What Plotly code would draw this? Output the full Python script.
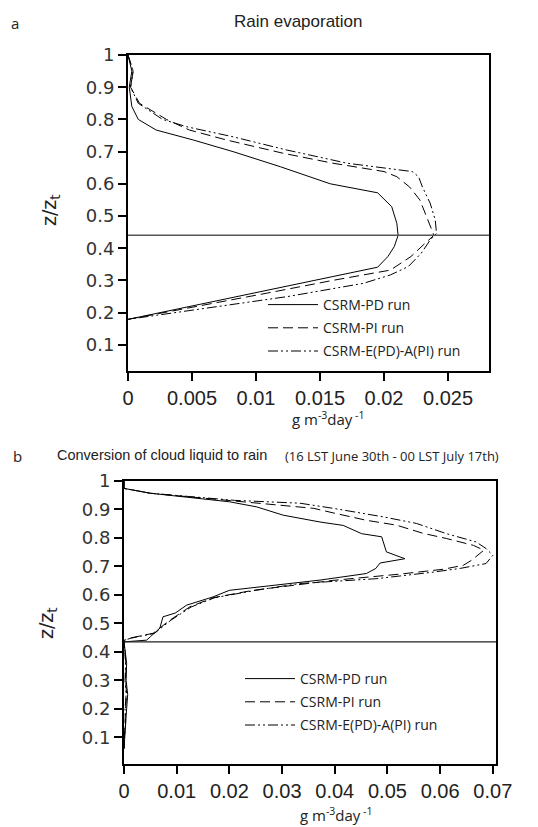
import plotly.graph_objects as go

# ---------------- data: panel a (Rain evaporation) ----------------
a_pd_z = [1.0, 0.95, 0.9, 0.84, 0.8, 0.767, 0.736, 0.7, 0.653, 0.6, 0.572, 0.529, 0.477, 0.44, 0.405, 0.374, 0.341, 0.30, 0.26, 0.218, 0.179]
a_pd_v = [0.0, 0.0003, 0.0001, 0.0003, 0.0008, 0.0022, 0.0051, 0.0082, 0.0119, 0.0158, 0.0195, 0.0206, 0.0210, 0.0211, 0.0208, 0.0203, 0.0195, 0.0146, 0.0097, 0.0047, 0.0]

a_pi_z = [1.0, 0.95, 0.9, 0.85, 0.8, 0.767, 0.736, 0.695, 0.664, 0.638, 0.622, 0.59, 0.55, 0.508, 0.467, 0.44, 0.415, 0.374, 0.332, 0.30, 0.26, 0.218, 0.179]
a_pi_v = [0.0, 0.0004, 0.0002, 0.0009, 0.0030, 0.0048, 0.0077, 0.0121, 0.0160, 0.0200, 0.0210, 0.0220, 0.0228, 0.0232, 0.0236, 0.0239, 0.0232, 0.0221, 0.0205, 0.0160, 0.0108, 0.0051, 0.0]

a_ea_z = [1.0, 0.95, 0.9, 0.85, 0.8, 0.777, 0.746, 0.705, 0.664, 0.648, 0.638, 0.622, 0.59, 0.54, 0.488, 0.446, 0.425, 0.384, 0.343, 0.317, 0.291, 0.25, 0.208, 0.179]
a_ea_v = [0.0, 0.0004, 0.0002, 0.0008, 0.0027, 0.0046, 0.0082, 0.0124, 0.0171, 0.0202, 0.0222, 0.0227, 0.0230, 0.0236, 0.0240, 0.0241, 0.0236, 0.0229, 0.0219, 0.0205, 0.0184, 0.0125, 0.0052, 0.0]

a_hline = 0.44
a_xticks = [0, 0.005, 0.01, 0.015, 0.02, 0.025]
a_xticktext = ["0", "0.005", "0.01", "0.015", "0.02", "0.025"]

# ---------------- data: panel b (Conversion of cloud liquid to rain) ----------------
b_pd_z = [1.0, 0.974, 0.957, 0.927, 0.909, 0.88, 0.856, 0.844, 0.815, 0.804, 0.751, 0.727, 0.712, 0.693, 0.675, 0.652, 0.616, 0.593, 0.564, 0.536, 0.523, 0.483, 0.453, 0.441, 0.435, 0.40, 0.36, 0.30, 0.25, 0.20, 0.15, 0.10, 0.06]
b_pd_v = [0.0, 0.0, 0.005, 0.020, 0.0252, 0.0302, 0.0372, 0.0416, 0.0451, 0.0489, 0.0498, 0.0533, 0.0486, 0.0478, 0.0460, 0.0372, 0.0200, 0.0169, 0.0119, 0.0097, 0.0074, 0.0068, 0.0050, 0.0043, 0.0, 0.0003, 0.0005, 0.0004, 0.0007, 0.0005, 0.0003, 0.0002, 0.0]

b_pi_z = [1.0, 0.974, 0.957, 0.932, 0.921, 0.915, 0.904, 0.888, 0.862, 0.845, 0.816, 0.798, 0.774, 0.757, 0.722, 0.704, 0.69, 0.673, 0.651, 0.616, 0.59, 0.558, 0.511, 0.465, 0.448, 0.44, 0.40, 0.35, 0.30, 0.25, 0.2, 0.15, 0.1, 0.06]
b_pi_v = [0.0, 0.0, 0.005, 0.020, 0.027, 0.0302, 0.036, 0.0397, 0.046, 0.0517, 0.0568, 0.0612, 0.0663, 0.0683, 0.066, 0.0644, 0.0606, 0.0524, 0.0397, 0.0245, 0.0169, 0.0125, 0.0087, 0.0055, 0.0011, 0.0, 0.0002, 0.0004, 0.0003, 0.0005, 0.0003, 0.0002, 0.0001, 0.0]

b_ea_z = [1.0, 0.974, 0.957, 0.932, 0.922, 0.904, 0.874, 0.851, 0.815, 0.786, 0.763, 0.739, 0.71, 0.693, 0.68, 0.657, 0.64, 0.616, 0.59, 0.558, 0.511, 0.465, 0.448, 0.44, 0.40, 0.35, 0.30, 0.25, 0.2, 0.15, 0.1, 0.06]
b_ea_v = [0.0, 0.0, 0.005, 0.021, 0.0334, 0.0397, 0.0492, 0.0555, 0.0612, 0.0668, 0.0687, 0.0700, 0.0687, 0.0638, 0.0587, 0.0480, 0.0334, 0.0250, 0.0172, 0.0128, 0.0089, 0.0058, 0.0013, 0.0, 0.0002, 0.0003, 0.0002, 0.0004, 0.0002, 0.0003, 0.0001, 0.0]

b_hline = 0.435
b_xticks = [0, 0.01, 0.02, 0.03, 0.04, 0.05, 0.06, 0.07]
b_xticktext = ["0", "0.01", "0.02", "0.03", "0.04", "0.05", "0.06", "0.07"]

yticks = [0.1, 0.2, 0.3, 0.4, 0.5, 0.6, 0.7, 0.8, 0.9, 1.0]
yticktext = ["0.1", "0.2", "0.3", "0.4", "0.5", "0.6", "0.7", "0.8", "0.9", "1"]

series_names = ["CSRM-PD run", "CSRM-PI run", "CSRM-E(PD)-A(PI) run"]

# ---------------- styling ----------------
W, H = 538, 827
TICKX = "Liberation Sans, Arial, sans-serif"
LEG_FONT = "Open Sans, Noto Sans, sans-serif"
dashes = ["solid", "10px,5px", "10px,3px,2px,3px,2px,3px"]

fig = go.Figure()

panel_a = [(a_pd_v, a_pd_z), (a_pi_v, a_pi_z), (a_ea_v, a_ea_z)]
panel_b = [(b_pd_v, b_pd_z), (b_pi_v, b_pi_z), (b_ea_v, b_ea_z)]

for i, (v, z) in enumerate(panel_a):
    fig.add_trace(go.Scatter(x=v, y=z, mode="lines", name=series_names[i],
                             line=dict(color="black", width=1, dash=dashes[i]),
                             xaxis="x", yaxis="y", legend="legend",
                             legendgroup="a%d" % i))
for i, (v, z) in enumerate(panel_b):
    fig.add_trace(go.Scatter(x=v, y=z, mode="lines", name=series_names[i],
                             line=dict(color="black", width=1, dash=dashes[i]),
                             xaxis="x2", yaxis="y2", legend="legend2",
                             legendgroup="b%d" % i))

# horizontal reference lines
fig.add_hline(y=a_hline, line=dict(color="#555555", width=1.5), xref="x", yref="y")
fig.add_hline(y=b_hline, line=dict(color="#222222", width=1.2), xref="x2", yref="y2")


def px_dom(lo, hi, total, flip=False):
    if flip:
        return [1 - hi / total, 1 - lo / total]
    return [lo / total, hi / total]


xaxis_common = dict(showline=True, linecolor="black", linewidth=2, mirror=True,
                    ticks="outside", ticklen=8, tickwidth=1.5, tickcolor="black",
                    showgrid=False, zeroline=False, automargin=False, tickangle=0,
                    tickfont=dict(family=TICKX, size=20, color="#222222"))
yaxis_common = dict(showline=True, linecolor="black", linewidth=2, mirror=True,
                    ticks="outside", ticklen=8, tickwidth=1.5, tickcolor="black",
                    showgrid=False, zeroline=False, automargin=False,
                    tickvals=yticks, ticktext=yticktext,
                    tickfont=dict(family="DejaVu Sans, sans-serif", size=18, color="#333333"))

fig.update_layout(
    width=W, height=H,
    margin=dict(l=0, r=0, t=0, b=0, autoexpand=False),
    paper_bgcolor="white", plot_bgcolor="white",
    showlegend=True,
    xaxis=dict(domain=px_dom(128, 489, W), range=[0, 0.0282], anchor="y",
               tickvals=a_xticks, ticktext=a_xticktext, **xaxis_common),
    yaxis=dict(domain=px_dom(55, 371, H, flip=True), range=[0.0186, 1], anchor="x",
               **yaxis_common),
    xaxis2=dict(domain=px_dom(124, 496, W), range=[0, 0.0706], anchor="y2",
                tickvals=b_xticks, ticktext=b_xticktext, **xaxis_common),
    yaxis2=dict(domain=px_dom(481, 764, H, flip=True), range=[0.006, 1], anchor="x2",
                **yaxis_common),
    legend=dict(x=263 / W, y=1 - 289 / H, xanchor="left", yanchor="top",
                bgcolor="rgba(0,0,0,0)", borderwidth=0, tracegroupgap=2, itemwidth=50,
                font=dict(family=LEG_FONT, size=14, color="#222222")),
    legend2=dict(x=240 / W, y=1 - 663 / H, xanchor="left", yanchor="top",
                 bgcolor="rgba(0,0,0,0)", borderwidth=0, tracegroupgap=2, itemwidth=50,
                 font=dict(family=LEG_FONT, size=14, color="#222222")),
)

annotations = [
    dict(text="a", x=15 / W, y=1 - 23 / H, font=dict(family=LEG_FONT, size=15, color="#222")),
    dict(text="Rain evaporation", x=298 / W, y=1 - 21 / H,
         font=dict(family=TICKX, size=17, color="#222")),
    dict(text="b", x=17 / W, y=1 - 456 / H, font=dict(family=LEG_FONT, size=15, color="#222")),
    dict(text="Conversion of cloud liquid to rain", x=55 / W, y=1 - 455 / H, xanchor="left",
         font=dict(family=TICKX, size=14.5, color="#222")),
    dict(text="(16 LST June 30th - 00 LST July 17th)", x=283 / W, y=1 - 456 / H, xanchor="left",
         font=dict(family=LEG_FONT, size=13, color="#222")),
    dict(text="z/z<sub>t</sub>", x=51 / W, y=1 - 210 / H, textangle=-90,
         font=dict(family="DejaVu Sans, sans-serif", size=19, color="#222")),
    dict(text="z/z<sub>t</sub>", x=47 / W, y=1 - 623 / H, textangle=-90,
         font=dict(family="DejaVu Sans, sans-serif", size=19, color="#222")),
    dict(text="g m<sup>-3</sup>day<sup> -1</sup>", x=328 / W, y=1 - 418 / H,
         font=dict(family=LEG_FONT, size=15, color="#222")),
    dict(text="g m<sup>-3</sup>day<sup> -1</sup>", x=336 / W, y=1 - 814 / H,
         font=dict(family=LEG_FONT, size=15, color="#222")),
]
for an in annotations:
    an.update(xref="paper", yref="paper", showarrow=False)
    an.setdefault("xanchor", "center")
    an.setdefault("yanchor", "middle")
fig.update_layout(annotations=annotations)

fig.write_html("out.html")
